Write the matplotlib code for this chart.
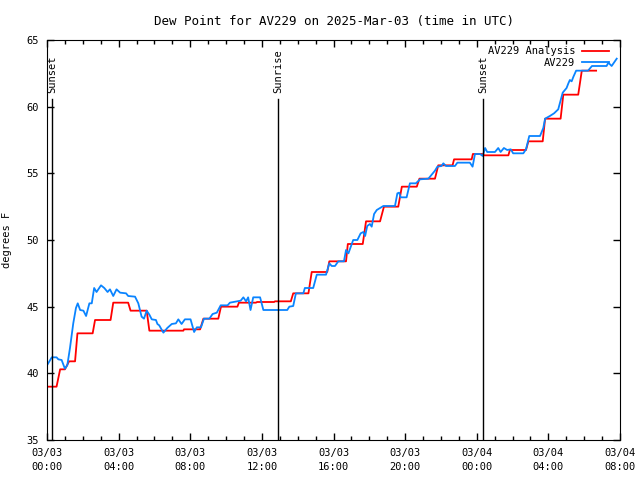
import matplotlib
matplotlib.use("Agg")
import matplotlib.pyplot as plt
import matplotlib.dates as mdates
import pandas as pd

# ----------------------------------------------------
# Data (minutes after 2025-03-03 00:00 UTC, degrees F)
# ----------------------------------------------------

start = pd.Timestamp("2025-03-03 00:00")
end = pd.Timestamp("2025-03-04 08:00")

analysis_min = [0, 32, 44, 60, 74, 94, 102, 153, 161, 213, 222, 272, 280, 334, 343,
                457, 459, 513, 524, 574, 583, 638, 643, 700, 704, 761, 764, 817,
                825, 876, 887, 939, 946, 1002, 1008, 1058, 1069, 1116, 1129, 1177,
                1189, 1239, 1248, 1300, 1311, 1359, 1364, 1423, 1427, 1460, 1465,
                1546, 1551, 1605, 1613, 1661, 1669, 1721, 1730, 1780, 1792, 1840]
analysis_val = [39.0, 39.0, 40.3, 40.3, 40.9, 40.9, 43.0, 43.0, 44.0, 44.0, 45.3,
                45.3, 44.7, 44.7, 43.2, 43.2, 43.3, 43.3, 44.1, 44.1, 45.0, 45.0,
                45.3, 45.3, 45.35, 45.35, 45.4, 45.4, 46.0, 46.0, 47.6, 47.6, 48.4,
                48.4, 49.7, 49.7, 51.4, 51.4, 52.5, 52.5, 54.0, 54.0, 54.6, 54.6,
                55.6, 55.6, 56.05, 56.05, 56.45, 56.45, 56.35, 56.35, 56.75, 56.75,
                57.4, 57.4, 59.1, 59.1, 60.9, 60.9, 62.7, 62.7]

obs_min = [0, 16, 32, 38, 49, 60, 68, 77, 88, 97, 103, 111, 122, 131, 142, 150,
           158, 166, 181, 192, 203, 211, 222, 233, 245, 265, 272, 295, 306, 317,
           325, 334, 343, 351, 365, 370, 376, 390, 403, 418, 432, 440, 451, 462,
           481, 493, 502, 516, 526, 544, 555, 569, 582, 605, 613, 649, 658, 667,
           674, 682, 691, 714, 725, 805, 812, 825, 834, 859, 864, 892, 904, 935,
           946, 954, 965, 976, 995, 1002, 1010, 1021, 1026, 1040, 1051, 1060,
           1066, 1073, 1082, 1088, 1096, 1105, 1127, 1166, 1174, 1180, 1185,
           1205, 1216, 1236, 1250, 1278, 1289, 1300, 1308, 1322, 1328, 1337,
           1367, 1375, 1417, 1426, 1434, 1451, 1460, 1468, 1475, 1501, 1512,
           1520, 1531, 1542, 1554, 1562, 1596, 1605, 1616, 1652, 1663, 1669,
           1685, 1699, 1713, 1728, 1741, 1747, 1752, 1758, 1764, 1773, 1813,
           1826, 1875, 1881, 1892, 1909]
obs_val = [40.6, 41.2, 41.2, 41.05, 41.0, 40.35, 40.6, 41.9, 43.75, 44.9, 45.25,
           44.75, 44.7, 44.3, 45.25, 45.25, 46.4, 46.1, 46.6, 46.4, 46.1, 46.3,
           45.8, 46.3, 46.05, 46.0, 45.8, 45.75, 45.25, 44.25, 44.1, 44.7, 44.4,
           44.05, 44.0, 43.7, 43.6, 43.05, 43.4, 43.7, 43.75, 44.05, 43.7, 44.05,
           44.05, 43.1, 43.45, 43.45, 44.1, 44.1, 44.45, 44.55, 45.1, 45.1, 45.3,
           45.45, 45.7, 45.4, 45.7, 44.75, 45.7, 45.7, 44.75, 44.75, 45.0, 45.05,
           46.0, 46.0, 46.4, 46.4, 47.4, 47.4, 48.25, 48.05, 48.05, 48.4, 48.4,
           49.25, 49.0, 49.7, 50.0, 50.0, 50.5, 50.6, 50.3, 51.05, 51.2, 51.0,
           51.95, 52.25, 52.55, 52.55, 53.5, 53.55, 53.2, 53.2, 54.25, 54.25,
           54.55, 54.6, 54.9, 55.2, 55.5, 55.55, 55.75, 55.55, 55.55, 55.8, 55.8,
           55.5, 56.45, 56.45, 56.3, 56.9, 56.6, 56.6, 56.9, 56.6, 56.9, 56.75,
           56.8, 56.5, 56.5, 56.8, 57.8, 57.8, 58.4, 59.1, 59.3, 59.5, 59.8, 61.05,
           61.4, 61.75, 62.0, 61.9, 62.25, 62.7, 62.7, 63.05, 63.05, 63.3, 63.05,
           63.6]

sun_events = ["Sunset", "Sunrise", "Sunset"]
sun_min = [17, 774, 1462]

analysis_t = [start + pd.Timedelta(minutes=m) for m in analysis_min]
obs_t = [start + pd.Timedelta(minutes=m) for m in obs_min]
sun_t = [start + pd.Timedelta(minutes=m) for m in sun_min]

# ----------------------------------------------------
# Plot
# ----------------------------------------------------

plt.rcParams["font.family"] = "DejaVu Sans Mono"
plt.rcParams["font.size"] = 7.5

fig = plt.figure(figsize=(6.4, 4.8), dpi=100)
ax = fig.add_axes([47 / 640, 40 / 480, 573 / 640, 400 / 480])

ax.plot(analysis_t, analysis_val, color="#ff0000", lw=1.3, label="AV229 Analysis")
ax.plot(obs_t, obs_val, color="#0a84ff", lw=1.3, label="AV229")

for name, t in zip(sun_events, sun_t):
    ax.axvline(t, ymin=0, ymax=0.8525, color="black", lw=1)
    ax.text(t, 0.868, name, transform=ax.get_xaxis_transform(),
            rotation=90, ha="center", va="bottom")

ax.set_xlim(start, end)
ax.set_ylim(35, 65)
ax.set_yticks(range(35, 66, 5))

ax.xaxis.set_major_locator(mdates.HourLocator(byhour=range(0, 24, 4)))
ax.xaxis.set_minor_locator(mdates.HourLocator())
ax.xaxis.set_major_formatter(mdates.DateFormatter("%m/%d\n%H:%M"))

ax.tick_params(which="both", direction="in", top=True, right=True, width=1)
ax.tick_params(which="major", length=5, pad=6)
ax.tick_params(which="minor", length=3)

ax.set_title("Dew Point for AV229 on 2025-Mar-03 (time in UTC)", pad=11)
ax.set_ylabel("degrees F", labelpad=10)

ax.legend(loc="upper right", bbox_to_anchor=(1 - 5 / 573, 1.0),
          frameon=False, markerfirst=False,
          handlelength=2.6, handletextpad=0.6, labelspacing=0.15,
          borderaxespad=0.2)

fig.canvas.draw()
for lbl in ax.get_xticklabels():
    lbl.set_linespacing(1.45)

fig.savefig("out.png", dpi=100)
